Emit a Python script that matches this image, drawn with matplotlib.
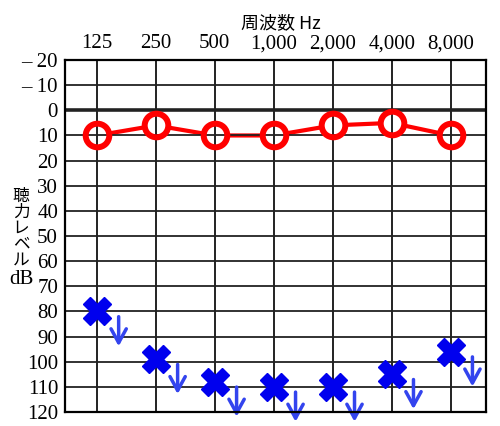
import numpy as np
import matplotlib
matplotlib.use("Agg")
import matplotlib.pyplot as plt

# data
freq_labels = ["125", "250", "500", "1,000", "2,000", "4,000", "8,000"]
air_db = [10, 6, 10, 10, 6, 5, 10]        # red circles
bone_db = [80, 99, 108, 110, 110, 105, 96]  # blue crosses (scale out)
y_ticks = [-20, -10, 0, 10, 20, 30, 40, 50, 60, 70, 80, 90, 100, 110, 120]
ylabel_chars = ["聴", "力", "レ", "ベ", "ル"]

serif = ["Liberation Serif", "Noto Sans CJK JP"]
jp = ["Noto Sans CJK JP", "DejaVu Sans"]

fig = plt.figure(figsize=(5, 4.26), dpi=100)
ax = fig.add_axes([0.13, 0.033, 0.842, 0.826])

x = np.arange(len(freq_labels))
ax.set_xlim(-0.54, 6.6)
ax.set_ylim(120, -20)

# grid
for xi in x:
    ax.axvline(xi, color="#222222", lw=1.4, zorder=4)
for yv in y_ticks:
    ax.axhline(yv, color="#222222", lw=2.6 if yv == 0 else 1.3, zorder=4)

# air conduction
ax.plot(x, air_db, color="#ff0000", lw=3, zorder=2)
ax.plot(x, air_db, "o", ms=18, mfc="white", mec="white", mew=0, zorder=3)
ax.plot(x, air_db, "o", ms=17, mfc="none", mec="#ff0000", mew=4.3, zorder=5)

# bone conduction with scale-out arrows
ax.plot(x, bone_db, "X", ms=20, color="#0000ee", mec="#0000ee", zorder=6)
for xi, v in zip(x, bone_db):
    ax.annotate("", xy=(xi + 0.37, v + 15), xytext=(xi + 0.37, v + 1),
                arrowprops=dict(arrowstyle="->,head_length=1.0,head_width=0.55",
                                color="#3344ee", lw=2.5),
                annotation_clip=False, zorder=6)

ax.set_xticks(x)
ax.set_xticklabels(freq_labels, fontfamily=serif, fontsize=15)
ax.xaxis.tick_top()
ax.set_yticks(y_ticks)
ax.set_yticklabels([("– " + str(-t)) if t < 0 else str(t) for t in y_ticks],
                   fontfamily=serif, fontsize=15)
ax.tick_params(length=0, pad=5)
for s in ax.spines.values():
    s.set_linewidth(1.6)
    s.set_zorder(7)

fig.text(0.562, 0.945, "周波数 Hz", family=jp, fontsize=13, ha="center", va="center")
for i, ch in enumerate(ylabel_chars):
    fig.text(0.042, 0.538 - i * 0.037, ch, family=jp, fontsize=12,
             ha="center", va="center")
fig.text(0.042, 0.345, "dB", family=serif, fontsize=15, ha="center", va="center")

fig.savefig("out.png", dpi=100)
